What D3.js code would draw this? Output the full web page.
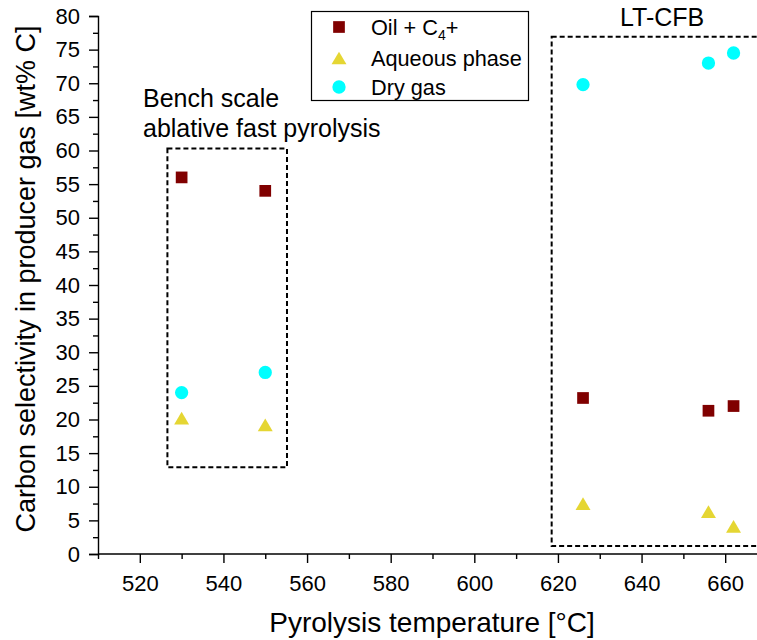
<!DOCTYPE html>
<html>
<head>
<meta charset="utf-8">
<script src="https://cdn.jsdelivr.net/npm/d3@7"></script>
<style>
  html, body { margin: 0; padding: 0; background: #fff; }
  svg { display: block; font-family: Arial, "Liberation Sans", Helvetica, sans-serif; }
</style>
</head>
<body>
<svg id="chart" width="757" height="640"></svg>
<script>
// Pyrolysis temperature (°C) for each run
const temperatures = [530, 550, 626, 656, 662];
// Carbon selectivity (wt% C) per product
const oilC4 = [56.0, 54.0, 23.2, 21.3, 22.0];
const aqueous = [20.2, 19.2, 7.5, 6.3, 4.1];
const dryGas = [24.0, 27.0, 69.8, 73.0, 74.5];

const xTicks = [520, 540, 560, 580, 600, 620, 640, 660];
const yTicks = [0, 5, 10, 15, 20, 25, 30, 35, 40, 45, 50, 55, 60, 65, 70, 75, 80];

const seriesNames = ["Oil + C4+", "Aqueous phase", "Dry gas"];
const seriesColors = ["#800000", "#e5d633", "#00ffff"];

// Regions grouping the two reactor types, in data units: [x0, x1, y0, y1]
const benchRegion = [526.6, 555.2, 12.9, 60.3];
const cfbRegion = [618.5, 672, 1.2, 76.9];

const svg = d3.select("#chart");
const x = d3.scaleLinear().domain([510, 670]).range([98, 767]);
const y = d3.scaleLinear().domain([0, 80]).range([554, 16]);

// Triangle centred on its bounding box
const triangleBox = {
  draw(ctx, size) {
    const w = Math.sqrt(size * 2 / 0.85);
    const h = w * 0.85;
    ctx.moveTo(0, -h / 2);
    ctx.lineTo(w / 2, h / 2);
    ctx.lineTo(-w / 2, h / 2);
    ctx.closePath();
  }
};
const shapes = [d3.symbolSquare, triangleBox, d3.symbolCircle];
const sizes = [137, 95, 139];

// Axes: minor ticks first, then major ticks with labels
const xMinor = d3.range(510, 671, 10).filter(v => v % 20 !== 0);
const yMinor = d3.range(2.5, 80, 5);

const gx = svg.append("g").attr("transform", `translate(0,${y(0)})`);
gx.call(d3.axisBottom(x).tickValues(xMinor).tickSize(5).tickFormat(""));
gx.call(g => g.select(".domain").remove());
const gxMajor = svg.append("g").attr("transform", `translate(0,${y(0)})`)
  .call(d3.axisBottom(x).tickValues(xTicks).tickSize(9).tickPadding(12).tickFormat(d3.format("d")));
gxMajor.select(".domain").attr("d", `M${x(510)},0H${x(670)}`);

const gy = svg.append("g").attr("transform", `translate(${x(510)},0)`);
gy.call(d3.axisLeft(y).tickValues(yMinor).tickSize(5).tickFormat(""));
gy.call(g => g.select(".domain").remove());
const gyMajor = svg.append("g").attr("transform", `translate(${x(510)},0)`)
  .call(d3.axisLeft(y).tickValues(yTicks).tickSize(9).tickPadding(9).tickFormat(d3.format("d")));

svg.selectAll(".domain, .tick line").attr("stroke", "#000").attr("stroke-width", 1.4);
svg.selectAll(".tick text").attr("font-size", 22).attr("fill", "#000")
  .attr("font-family", "Arial, 'Liberation Sans', sans-serif");

// Axis titles
svg.append("text")
  .attr("x", 432).attr("y", 632)
  .attr("text-anchor", "middle").attr("font-size", 28)
  .text("Pyrolysis temperature [°C]");
svg.append("text")
  .attr("transform", "translate(35,279) rotate(-90)")
  .attr("text-anchor", "middle").attr("font-size", 27)
  .text("Carbon selectivity in producer gas [wt% C]");

// Dashed region boxes
[benchRegion, cfbRegion].forEach(r => {
  svg.append("rect")
    .attr("x", x(r[0])).attr("y", y(r[3]))
    .attr("width", x(r[1]) - x(r[0])).attr("height", y(r[2]) - y(r[3]))
    .attr("fill", "none").attr("stroke", "#000")
    .attr("stroke-width", 2).attr("stroke-dasharray", "5,3");
});

// Region labels
const bench = svg.append("text").attr("font-size", 25).attr("x", 143);
bench.append("tspan").attr("x", 143).attr("y", 107).text("Bench scale");
bench.append("tspan").attr("x", 143).attr("y", 137).text("ablative fast pyrolysis");
svg.append("text").attr("x", 620).attr("y", 26).attr("font-size", 25).text("LT-CFB");

// Data points
const series = [oilC4, aqueous, dryGas];
series.forEach((vals, i) => {
  svg.append("g").selectAll("path")
    .data(vals.map((v, j) => [temperatures[j], v]))
    .join("path")
    .attr("transform", d => `translate(${x(d[0])},${y(d[1])})`)
    .attr("d", d3.symbol().type(shapes[i]).size(sizes[i]))
    .attr("fill", seriesColors[i]);
});

// Legend
const legend = svg.append("g");
legend.append("rect")
  .attr("x", 311.5).attr("y", 11.5).attr("width", 217).attr("height", 89)
  .attr("fill", "#fff").attr("stroke", "#000").attr("stroke-width", 1.2);
const legendY = [27, 58, 87];
seriesNames.forEach((name, i) => {
  legend.append("path")
    .attr("transform", `translate(339,${legendY[i]})`)
    .attr("d", d3.symbol().type(shapes[i]).size(sizes[i]))
    .attr("fill", seriesColors[i]);
  const t = legend.append("text")
    .attr("x", 371).attr("y", legendY[i] + 7.5).attr("font-size", 21.7);
  if (i === 0) {
    t.append("tspan").text("Oil + C");
    t.append("tspan").attr("font-size", 14).attr("dy", 5).text("4");
    t.append("tspan").attr("dy", -5).text("+");
  } else {
    t.text(name);
  }
});
</script>
</body>
</html>
